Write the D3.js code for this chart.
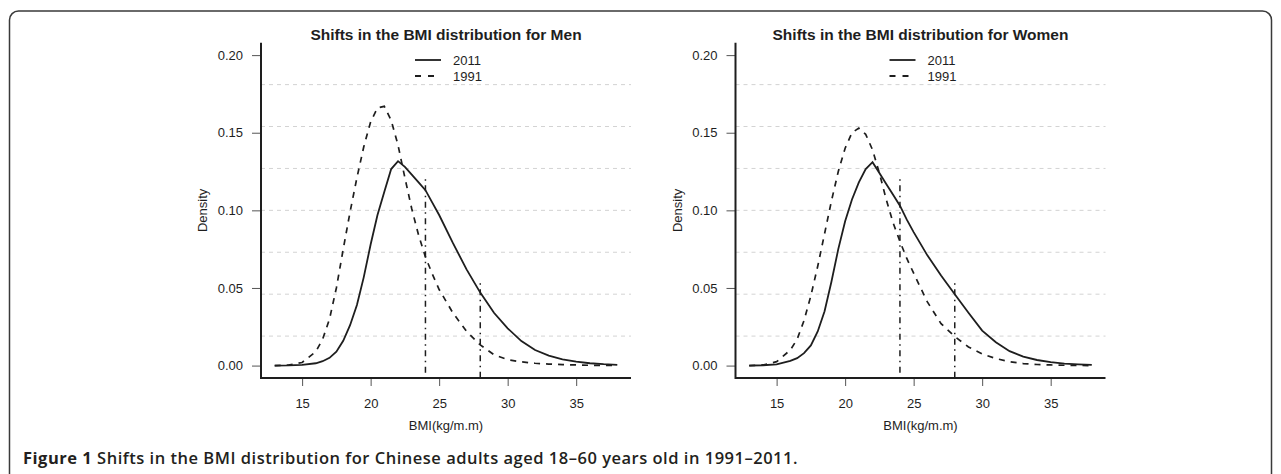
<!DOCTYPE html>
<html>
<head>
<meta charset="utf-8">
<script src="https://cdn.jsdelivr.net/npm/d3@7"></script>
<style>
  body { margin: 0; background: #fff; }
  svg { display: block; font-family: 'Liberation Sans', Arial, sans-serif; }
</style>
</head>
<body>
<div id="chart"></div>
<script>
let width = 1281, height = 474

// DATA
let bmi = [13, 14, 15, 16, 16.5, 17, 17.5, 18, 18.5, 19, 19.5, 20, 20.5, 21, 21.5, 22, 22.5, 23, 23.5, 24, 24.5,
  25, 26, 27, 28, 29, 30, 31, 32, 33, 34, 35, 36, 37, 38]
let men2011 = [0, 0.0001, 0.0004, 0.0015, 0.0028, 0.005, 0.009, 0.016, 0.026, 0.039, 0.057, 0.078, 0.097, 0.112, 0.1266, 0.1317, 0.128, 0.123, 0.118, 0.113, 0.105,
  0.097, 0.079, 0.062, 0.047, 0.034, 0.024, 0.0158, 0.010, 0.0064, 0.004, 0.0025, 0.0015, 0.0009, 0.0005]
let men1991 = [0, 0.0003, 0.002, 0.009, 0.017, 0.030, 0.050, 0.075, 0.099, 0.121, 0.141, 0.157, 0.166, 0.167, 0.158, 0.142, 0.121, 0.101, 0.084, 0.070, 0.059,
  0.049, 0.034, 0.022, 0.0133, 0.007, 0.0038, 0.0024, 0.0015, 0.001, 0.0006, 0.0004, 0.0002, 0.0001, 0.0001]
let women2011 = [0, 0.0002, 0.0008, 0.003, 0.0048, 0.008, 0.013, 0.022, 0.035, 0.054, 0.075, 0.093, 0.107, 0.118, 0.1266, 0.131, 0.124, 0.117, 0.110, 0.103, 0.094,
  0.086, 0.071, 0.058, 0.046, 0.034, 0.0225, 0.015, 0.0093, 0.0058, 0.0036, 0.0022, 0.0013, 0.0008, 0.0004]
let women1991 = [0, 0.0004, 0.0025, 0.010, 0.017, 0.029, 0.045, 0.064, 0.085, 0.106, 0.125, 0.140, 0.150, 0.153, 0.149, 0.139, 0.124, 0.107, 0.092, 0.080, 0.069,
  0.0595, 0.041, 0.027, 0.0187, 0.012, 0.0075, 0.0045, 0.0025, 0.0013, 0.0007, 0.0004, 0.0002, 0.0001, 0]

let xTicks = [15, 20, 25, 30, 35]
let yTicks = [0, 0.05, 0.10, 0.15, 0.20]
let cutoffs = [24, 28]
let cutoffTops = [0.12, 0.053]
let legendLabels = ['2011', '1991']
let panelTitles = ['Shifts in the BMI distribution for Men', 'Shifts in the BMI distribution for Women']
let captionBold = 'Figure 1'
let captionText = ' Shifts in the BMI distribution for Chinese adults aged 18\u201360 years old in 1991\u20132011.'

// LAYOUT
let plotW = 370, plotTop = 42.7, plotBottom = 378
let panelLeft = [261, 735.5]
let ink = '#1e1e1e'

let svg = d3.select('#chart')
  .append('svg')
  .attr('width', width)
  .attr('height', height)

// outer frame of the figure
svg.append('rect')
  .attr('x', 9.5)
  .attr('y', 11)
  .attr('width', 1262)
  .attr('height', 490)
  .attr('rx', 9)
  .attr('fill', 'none')
  .attr('stroke', '#3a3a3a')
  .attr('stroke-width', 1.5)

// R style 4% axis expansion
let xDom = [13 - 0.04 * 25, 38 + 0.04 * 25]
let yDom = [0 - 0.04 * 0.2, 0.2 + 0.04 * 0.2]

let x = d3.scaleLinear().domain(xDom).range([0, plotW])
let y = d3.scaleLinear().domain(yDom).range([plotBottom, plotTop])

let line = d3.line()
  .x(function (d) { return x(d[0]) })
  .y(function (d) { return y(d[1]) })

let series = [[men2011, men1991], [women2011, women1991]]

function drawPanel (p) {
  let g = svg.append('g')
    .attr('transform', 'translate(' + panelLeft[p] + ',0)')

  // GRID (like grid(nx = NA, ny = 8))
  let gridVals = d3.range(1, 8).map(function (k) {
    return yDom[0] + k * (yDom[1] - yDom[0]) / 8
  })
  g.selectAll('.grid')
    .data(gridVals)
    .enter().append('line')
    .attr('x1', 0)
    .attr('x2', plotW)
    .attr('y1', function (d) { return y(d) })
    .attr('y2', function (d) { return y(d) })
    .attr('stroke', '#d3d3d3')
    .attr('stroke-width', 1)
    .attr('stroke-dasharray', '4,4')

  // CURVES
  let s2011 = bmi.map(function (b, i) { return [b, series[p][0][i]] })
  let s1991 = bmi.map(function (b, i) { return [b, series[p][1][i]] })

  g.append('path')
    .datum(s1991)
    .attr('d', line)
    .attr('fill', 'none')
    .attr('stroke', ink)
    .attr('stroke-width', 1.7)
    .attr('stroke-dasharray', '6,6')

  g.append('path')
    .datum(s2011)
    .attr('d', line)
    .attr('fill', 'none')
    .attr('stroke', ink)
    .attr('stroke-width', 1.8)

  // cut-off lines at 24 and 28
  g.selectAll('.cut')
    .data(cutoffs)
    .enter().append('line')
    .attr('x1', function (d) { return x(d) })
    .attr('x2', function (d) { return x(d) })
    .attr('y1', function (d, i) { return y(cutoffTops[i]) })
    .attr('y2', plotBottom)
    .attr('stroke', ink)
    .attr('stroke-width', 1.5)
    .attr('stroke-dasharray', '1.5,4.5,6,4.5')

  // AXES
  let yAxis = g.append('g')
    .call(d3.axisLeft(y).tickValues(yTicks).tickFormat(d3.format('.2f')).tickSize(9).tickPadding(9))
  let xAxis = g.append('g')
    .attr('transform', 'translate(0,' + plotBottom + ')')
    .call(d3.axisBottom(x).tickValues(xTicks).tickSize(8).tickPadding(13))

  ;[yAxis, xAxis].forEach(function (a) {
    a.select('.domain').remove()
    a.selectAll('.tick line').attr('stroke', '#555').attr('stroke-width', 1)
    a.selectAll('.tick text')
      .attr('fill', ink)
      .style('font-size', '13px')
      .style('font-family', "'Liberation Sans', Arial, sans-serif")
  })

  // L shaped box
  g.append('path')
    .attr('d', 'M0,' + plotTop + 'V' + plotBottom + 'H' + plotW)
    .attr('fill', 'none')
    .attr('stroke', ink)
    .attr('stroke-width', 2)

  // LABELS
  g.append('text')
    .attr('x', plotW / 2)
    .attr('y', 39.5)
    .attr('text-anchor', 'middle')
    .style('font-size', '15.5px')
    .style('font-weight', 'bold')
    .attr('fill', ink)
    .text(panelTitles[p])

  g.append('text')
    .attr('x', plotW / 2)
    .attr('y', 430)
    .attr('text-anchor', 'middle')
    .style('font-size', '13px')
    .attr('fill', ink)
    .text('BMI(kg/m.m)')

  g.append('text')
    .attr('transform', 'translate(-54,' + (plotTop + plotBottom) / 2 + ') rotate(-90)')
    .attr('text-anchor', 'middle')
    .style('font-size', '13px')
    .attr('fill', ink)
    .text('Density')

  // LEGEND
  let lg = g.append('g')
    .attr('transform', 'translate(' + (plotW / 2) + ',0)')
  let legendRows = lg.selectAll('.leg')
    .data(legendLabels)
    .enter().append('g')
    .attr('transform', function (d, i) { return 'translate(0,' + (60 + i * 16) + ')' })

  legendRows.append('line')
    .attr('x1', -31)
    .attr('x2', -5)
    .attr('stroke', ink)
    .attr('stroke-width', 1.8)
    .attr('stroke-dasharray', function (d, i) { return i === 1 ? '6,7' : null })

  legendRows.append('text')
    .attr('x', 7)
    .attr('dy', '0.35em')
    .style('font-size', '13px')
    .attr('fill', ink)
    .text(function (d) { return d })
}

drawPanel(0)
drawPanel(1)

// CAPTION
let cap = svg.append('text')
  .attr('x', 23)
  .attr('y', 464)
  .style('font-family', "'Open Sans', 'Noto Sans', sans-serif")
  .style('font-size', '16.5px')
  .attr('fill', '#231f20')

cap.append('tspan')
  .style('font-weight', 700)
  .text(captionBold)
cap.append('tspan')
  .style('font-weight', 600)
  .text(captionText)

// stretch the caption a little so it ends where the printed one does
let capWidth = 775
let capLen = cap.node().getComputedTextLength()
let nChars = (captionBold + captionText).length
cap.style('letter-spacing', ((capWidth - capLen) / nChars) + 'px')
</script>
</body>
</html>
